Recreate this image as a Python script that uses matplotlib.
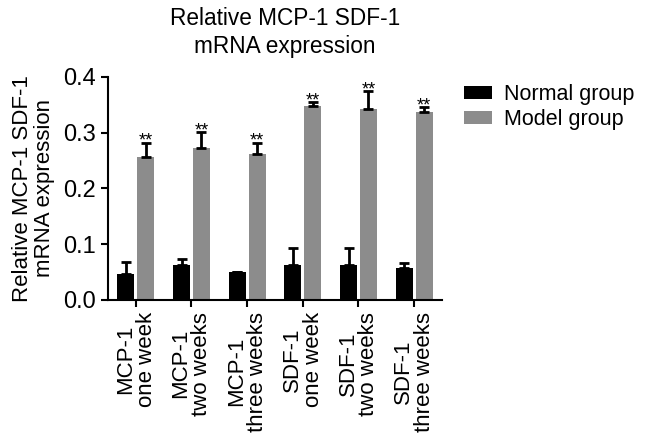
import numpy as np
import matplotlib
matplotlib.use("Agg")
import matplotlib.pyplot as plt

plt.rcParams['font.family'] = ['Liberation Sans', 'DejaVu Sans']

categories = ["MCP-1\none week", "MCP-1\ntwo weeks", "MCP-1\nthree weeks",
              "SDF-1\none week", "SDF-1\ntwo weeks", "SDF-1\nthree weeks"]
normal = [0.047, 0.062, 0.050, 0.062, 0.063, 0.058]
normal_err = [0.021, 0.011, 0.001, 0.031, 0.030, 0.008]
model = [0.256, 0.273, 0.262, 0.348, 0.342, 0.336]
model_err = [0.026, 0.028, 0.020, 0.007, 0.033, 0.009]
stars = ["**"] * 6

fig = plt.figure(figsize=(6.46, 4.41), dpi=100)
ax = fig.add_axes([108/646, 1-300/441, (442-108)/646, (300-76.7)/441])

x = np.arange(len(categories))
w = 0.305
gap = 0.025
err_kw = dict(ecolor="black", elinewidth=2, capsize=3.5, capthick=2)
ax.bar(x - gap - w/2, normal, w, color="black", label="Normal group",
       yerr=[np.zeros(6), normal_err], error_kw=err_kw)
ax.bar(x + gap + w/2, model, w, color="#8c8c8c", label="Model group",
       yerr=[np.zeros(6), model_err], error_kw=err_kw)

for i in range(len(x)):
    ax.text(x[i] + gap + w/2, model[i] + model_err[i] - 0.006, stars[i],
            ha="center", va="baseline", fontsize=13)

ax.set_xlim(-0.5, 5.5)
ax.set_ylim(0, 0.4)
ax.set_yticks([0.0, 0.1, 0.2, 0.3, 0.4])
ax.set_yticklabels(["0.0", "0.1", "0.2", "0.3", "0.4"], fontsize=17)
ax.set_xticks(x)
ax.set_xticklabels(categories, rotation=90, fontsize=16, va="top", ha="center",
                   linespacing=1.0)
ax.set_ylabel("Relative MCP-1 SDF-1\nmRNA expression", fontsize=16, linespacing=1.05,
              labelpad=6)
for s in ["top", "right"]:
    ax.spines[s].set_visible(False)
for s in ["left", "bottom"]:
    ax.spines[s].set_linewidth(1.5)
ax.tick_params(width=1.5, length=5)

fig.text(285/646, 1-7/441, "Relative MCP-1 SDF-1\nmRNA expression",
         ha="center", va="top", fontsize=16.3, linespacing=1.25)

fig.legend(loc="upper left", bbox_to_anchor=(464/646, 1-84/441), frameon=False,
           fontsize=15.5, handlelength=1.3, handleheight=0.55, handletextpad=0.55,
           labelspacing=0.2, borderpad=0, borderaxespad=0)

fig.savefig("out.png", dpi=100)
